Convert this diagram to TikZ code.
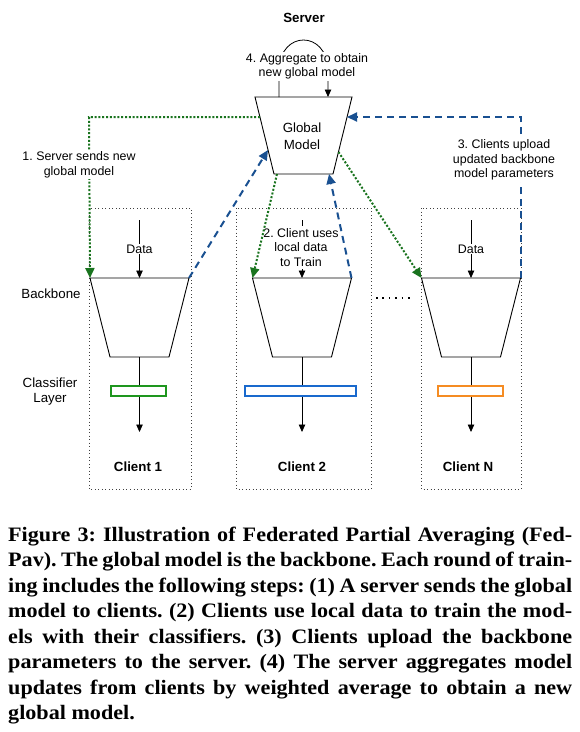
\documentclass[tikz,border=0pt]{standalone}
\usepackage{fontspec}
\setmainfont{Liberation Serif}
\newfontfamily\dfont{Liberation Sans}
\newfontfamily\capfont[FakeStretch=1.08]{Liberation Serif}
\usetikzlibrary{arrows.meta}
\definecolor{dgreen}{RGB}{25,115,30}
\definecolor{dblue}{RGB}{25,80,145}
\definecolor{cgreen}{RGB}{30,150,30}
\definecolor{cblue}{RGB}{25,105,205}
\definecolor{corange}{RGB}{245,140,35}
\frenchspacing
\begin{document}
\begin{tikzpicture}[x=1pt,y=-1pt,
  lbl/.style={font=\dfont\fontsize{12.4}{14.5}\selectfont, align=center, inner sep=1pt},
  biglbl/.style={font=\dfont\fontsize{13.3}{15.5}\selectfont, align=center, inner sep=1pt},
  boldlbl/.style={font=\dfont\bfseries\fontsize{13.3}{15.5}\selectfont, inner sep=1pt},
  whitebg/.style={fill=white},
  trap/.style={draw=black, line width=0.9pt, fill=white},
  clientbox/.style={draw=black!75, line width=0.8pt, dash pattern=on 0.9pt off 2.6pt},
  clsbox/.style={draw, line width=1.8pt, fill=white, minimum height=10pt, inner sep=0pt},
  blk/.style={-{Triangle[length=7.5pt,width=6.5pt]}, line width=0.8pt},
  sendarrow/.style={dgreen, line width=2pt, dash pattern=on 2pt off 1.8pt, -{Triangle[length=10pt,width=9pt]}},
  uparrow/.style={dblue, line width=2pt, dash pattern=on 7pt off 5pt, -{Triangle[length=10pt,width=9pt]}},
  capline/.style={font=\capfont\bfseries\fontsize{20.5}{25}\selectfont, anchor=base west, inner sep=0pt},
]
\useasboundingbox (0,0) rectangle (580,732);
\fill[white] (0,0) rectangle (580,732);

% client boxes
\draw[clientbox] (89,208) rectangle (191,489);
\draw[clientbox] (236,208) rectangle (371,489);
\draw[clientbox] (421,208) rectangle (521,489);

% server
\node[boldlbl] (server) at (304,18) {Server};
\coordinate (gTL) at (255,97);
\coordinate (gTR) at (352,97);
\coordinate (gBR) at (333,174);
\coordinate (gBL) at (274,174);
\draw[trap] (gTL) -- (gTR) -- (gBR) -- (gBL) -- cycle;
\node[biglbl, align=center] (gm) at (302,136) {Global\\[1pt]Model};

% aggregation loop
\coordinate (loopA) at (279,97);
\coordinate (loopB) at (328,97);
\draw[blk] (loopA) -- (279,70) .. controls (280,30) and (327,30) .. (328,70) -- (loopB);
\node[lbl, whitebg] (agg) at (307,66.5) {4. Aggregate to obtain\\new global model};

% clients backbone trapezoids
\foreach \n/\c in {a/139.5, b/302, c/471}{
  \coordinate (\n TL) at (\c-49.5,278);
  \coordinate (\n TR) at (\c+49.5,278);
  \coordinate (\n BR) at (\c+29.5,357);
  \coordinate (\n BL) at (\c-29.5,357);
  \coordinate (\n top) at (\c,278);
  \coordinate (\n bot) at (\c,357);
  \coordinate (\n in) at (\c,220);
  \coordinate (\n out) at (\c,432);
  \draw[trap] (\n TL) -- (\n TR) -- (\n BR) -- (\n BL) -- cycle;
  \draw[blk] (\n in) -- (\n top);
  \draw[blk] (\n bot) -- (\n out);
}

% data labels
\node[lbl, whitebg] (data1) at (139.5,249) {Data};
\node[lbl, whitebg] (dataN) at (471,249) {Data};
\node[lbl, whitebg, inner sep=2pt] (train) at (301,247.5) {2. Client uses\\local data\\to Train};

% classifier layers
\node[clsbox, draw=cgreen, minimum width=55pt] (cls1) at (138.5,391) {};
\node[clsbox, draw=cblue, minimum width=111pt] (cls2) at (300.5,391) {};
\node[clsbox, draw=corange, minimum width=65pt] (clsN) at (470.5,391) {};

% side labels
\node[biglbl] (bb) at (51,294) {Backbone};
\node[biglbl] (cl) at (50,391.5) {Classifier\\Layer};

% client names
\node[boldlbl] (c1) at (138,467) {Client 1};
\node[boldlbl] (c2) at (302,467) {Client 2};
\node[boldlbl] (cN) at (468,467) {Client N};

% ellipsis
\coordinate (e1) at (376,298);
\coordinate (e2) at (410,298);
\draw[line width=1.6pt, dash pattern=on 1.6pt off 4.8pt] (e1) -- (e2);

% step 1: server sends
\coordinate (s1) at (260,117);
\coordinate (s1c) at (89,117);
\draw[sendarrow] (s1) -- (s1c) -- (aTL);
\node[lbl, whitebg] (step1) at (79,165) {1. Server sends new\\global model};

\coordinate (s2) at (277,174);
\draw[sendarrow] (s2) -- (bTL);
\coordinate (s3) at (338.5,152);
\draw[sendarrow] (s3) -- (cTL);

% step 3: upload
\coordinate (u1) at (268,150);
\draw[uparrow] (aTR) -- (u1);
\coordinate (u2) at (329,174);
\draw[uparrow] (bTR) -- (u2);
\coordinate (u3c) at (520.5,117);
\coordinate (u3) at (347,117);
\draw[uparrow] (cTR) -- (u3c) -- (u3);
\node[lbl, whitebg, inner sep=2pt] (step3) at (504,160) {3. Clients upload\\updated backbone\\model parameters};

% caption
\node[capline] (l1) at (8,541) {\makebox[564pt][s]{Figure 3: Illustration of Federated Partial Averaging (Fed-}};
\node[capline] (l2) at (8,566.5) {\makebox[564pt][s]{Pav). The global model is the backbone. Each round of train-}};
\node[capline] (l3) at (8,592) {\makebox[564pt][s]{ing includes the following steps: (1) A server sends the global}};
\node[capline] (l4) at (8,617.5) {\makebox[564pt][s]{model to clients. (2) Clients use local data to train the mod-}};
\node[capline] (l5) at (8,643) {\makebox[564pt][s]{els with their classifiers. (3) Clients upload the backbone}};
\node[capline] (l6) at (8,668.5) {\makebox[564pt][s]{parameters to the server. (4) The server aggregates model}};
\node[capline] (l7) at (8,694) {\makebox[564pt][s]{updates from clients by weighted average to obtain a new}};
\node[capline] (l8) at (8,719.5) {global model.};
\end{tikzpicture}
\end{document}
